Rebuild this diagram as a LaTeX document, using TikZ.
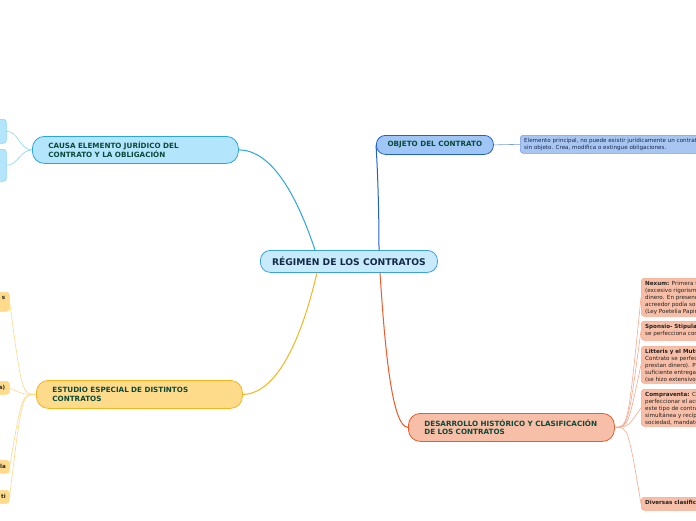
\documentclass[tikz,border=0pt]{standalone}
\usepackage{fontspec}
\setmainfont{DejaVu Sans}
\definecolor{cfill}{HTML}{C8EBFB}
\definecolor{cline}{HTML}{3BA0DC}
\definecolor{navy}{HTML}{15294B}
\definecolor{dgreen}{HTML}{0B4A3A}
\definecolor{bfill}{HTML}{B3E5FC}
\definecolor{bline}{HTML}{29A6E0}
\definecolor{blight}{HTML}{8FD3F5}
\definecolor{ofill}{HTML}{A0C6F6}
\definecolor{oline}{HTML}{2262C8}
\definecolor{ocfill}{HTML}{A9C6F3}
\definecolor{ocline}{HTML}{7A9BDC}
\definecolor{yfill}{HTML}{FEDB8B}
\definecolor{yline}{HTML}{F6B51C}
\definecolor{ylight}{HTML}{FDD98A}
\definecolor{rfill}{HTML}{F8BFA8}
\definecolor{rline}{HTML}{EE5A28}
\definecolor{rlight}{HTML}{F4A88C}
\definecolor{txt}{HTML}{222222}
\begin{document}
\begin{tikzpicture}[x=1pt,y=-1pt,
  mainbox/.style={draw, line width=0.8pt, rounded corners=12pt, anchor=north west, inner sep=0pt, font=\fontsize{7.2}{8.6}\selectfont\bfseries, text=dgreen, align=left},
  leafbox/.style={draw, line width=0.6pt, rounded corners=3pt, anchor=north west, inner sep=0pt},
  leaftext/.style={anchor=north west, inner sep=0pt, align=left, text=txt, font=\fontsize{5.6}{7}\selectfont},
  stubtext/.style={anchor=east, inner sep=0pt, font=\fontsize{5.6}{6}\selectfont\bfseries, text=txt},
  conn/.style={line width=1pt},
  thin/.style={line width=0.6pt}]
\useasboundingbox (0,0) rectangle (696,520);
\clip (0,0) rectangle (696,520);
\fill[white] (0,0) rectangle (696,520);

% central
\node[draw=cline, fill=cfill, line width=0.8pt, rounded corners=10pt, anchor=north west, minimum width=177pt, minimum height=22pt, inner sep=0pt, font=\fontsize{9.2}{11}\selectfont\bfseries, text=navy] (c) at (260,250) {RÉGIMEN DE LOS CONTRATOS};

% CAUSA
\node[mainbox, draw=bline, fill=bfill, minimum width=206pt, minimum height=27pt, text width=174pt, inner xsep=16pt] (causa) at (32,136) {CAUSA ELEMENTO JURÍDICO DEL\\CONTRATO Y LA OBLIGACIÓN};
\node[leafbox, draw=blight, fill=bfill, minimum width=20pt, minimum height=24pt] (ca1) at (-14,119) {};
\node[leafbox, draw=blight, fill=bfill, minimum width=20pt, minimum height=32pt] (ca2) at (-14,149) {};

% OBJETO
\node[draw=oline, fill=ofill, line width=0.8pt, rounded corners=9pt, anchor=north west, minimum width=117pt, minimum height=19pt, inner sep=0pt, font=\fontsize{7.2}{8.6}\selectfont\bfseries, text=dgreen] (obj) at (376,135) {OBJETO DEL CONTRATO};
\node[leafbox, draw=ocline, fill=ocfill, minimum width=200pt, minimum height=18pt] (obj1) at (520,135) {};
\node[leaftext, text=navy] (obj1t) at (524,138) {Elemento principal, no puede existir jurídicamente un contrato\\sin objeto. Crea, modifica o extingue obligaciones.};

% ESTUDIO
\node[mainbox, draw=yline, fill=yfill, minimum width=206pt, minimum height=28pt, text width=174pt, inner xsep=16pt] (est) at (36,380) {ESTUDIO ESPECIAL DE DISTINTOS\\CONTRATOS};
\node[leafbox, draw=ylight, fill=yfill, minimum width=20pt, minimum height=19pt] (e1) at (-11,292) {};
\node[leafbox, draw=ylight, fill=yfill, minimum width=20pt, minimum height=13pt] (e2) at (-11,381) {};
\node[leafbox, draw=ylight, fill=yfill, minimum width=20pt, minimum height=13pt] (e3) at (-11,460) {};
\node[leafbox, draw=ylight, fill=yfill, minimum width=20pt, minimum height=13pt] (e4) at (-11,490) {};
\node[stubtext] at (5.5,298) {s};
\node[stubtext] at (5.5,387.5) {s)};
\node[stubtext] at (6,466.5) {la};
\node[stubtext] at (6,496.5) {ti};

% DESARROLLO
\node[mainbox, draw=rline, fill=rfill, minimum width=206pt, minimum height=28pt, text width=174pt, inner xsep=16pt] (des) at (408,413) {DESARROLLO HISTÓRICO Y CLASIFICACIÓN\\DE LOS CONTRATOS};
\node[leafbox, draw=rlight, fill=rfill, minimum width=80pt, minimum height=38pt] (d1) at (641,278) {};
\node[leaftext] at (645,281) {\textbf{Nexum:} Primera f\\(excesivo rigorism\\dinero. En presenc\\acreedor podía sor\\(Ley Poetelia Papir};
\node[leafbox, draw=rlight, fill=rfill, minimum width=80pt, minimum height=19pt] (d2) at (641,321) {};
\node[leaftext] at (645,324) {\textbf{Sponsio- Stipula}\\se perfecciona con};
\node[leafbox, draw=rlight, fill=rfill, minimum width=80pt, minimum height=37pt] (d3) at (641,346) {};
\node[leaftext] at (645,349) {\textbf{Litteris y el Mutu}\\Contrato se perfec\\prestan dinero). P\\suficiente entrega\\(se hizo extensivo};
\node[leafbox, draw=rlight, fill=rfill, minimum width=80pt, minimum height=37pt] (d4) at (641,389) {};
\node[leaftext] at (645,392) {\textbf{Compraventa:} Co\\perfeccionar el acu\\este tipo de contra\\simultánea y recípr\\sociedad, mandato};
\node[leafbox, draw=rlight, fill=rfill, minimum width=80pt, minimum height=13pt] (d5) at (641,497) {};
\node[leaftext] at (645,500.5) {\textbf{Diversas clasific}};

% main connectors
\draw[conn, draw=bline] ([xshift=55pt]c.north west) .. controls (300,205) and (275,150) .. (causa.east);
\draw[conn, draw=oline] ([xshift=119pt]c.north west) .. controls (379,200) and (377,160) .. (obj.west);
\draw[conn, draw=yline] ([xshift=57pt]c.south west) .. controls (300,345) and (275,394) .. (est.east);
\draw[conn, draw=rline] ([xshift=120pt]c.south west) .. controls (385,350) and (392,427) .. (des.west);

% leaf connectors
\draw[thin, draw=ocline] (obj.east) -- (obj1.west);
\draw[thin, draw=blight] (causa.west) .. controls (20,150) and (18,131) .. (ca1.east);
\draw[thin, draw=blight] (causa.west) .. controls (20,150) and (18,165) .. (ca2.east);
\foreach \n in {e1,e2,e3,e4}
  \draw[thin, draw=ylight] (est.west) .. controls (22,394) and (22,394) .. (\n.east);
\foreach \n in {d1,d2,d3,d4,d5}
  \draw[thin, draw=rlight] (des.east) .. controls (628,427) and (628,427) .. (\n.west);
\end{tikzpicture}
\end{document}
